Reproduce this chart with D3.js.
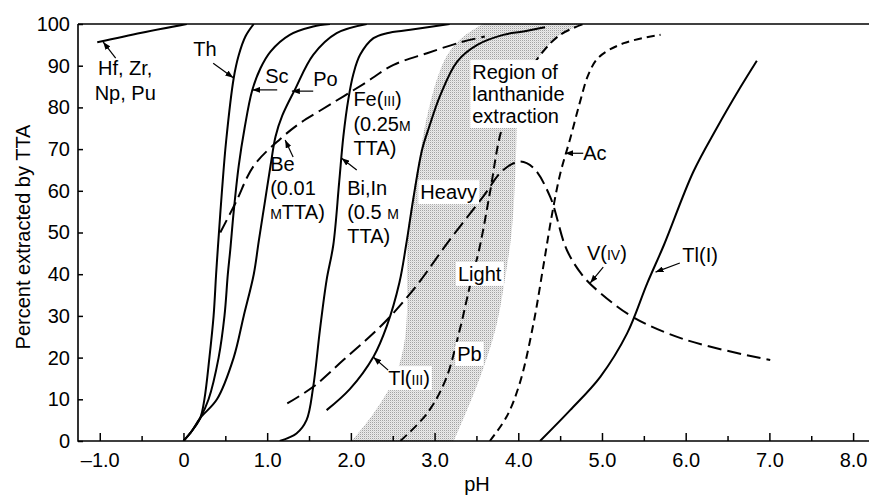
<!DOCTYPE html>
<html><head><meta charset="utf-8">
<script src="https://cdnjs.cloudflare.com/ajax/libs/d3/7.8.5/d3.min.js"></script>
<style>
html,body{margin:0;padding:0;background:#fff;}
svg{display:block;}
text{font-family:"Liberation Sans",Arial,Helvetica,sans-serif;fill:#000;}
</style></head><body>
<svg id="chart" width="869" height="495"></svg>
<script>
// ---------- data ----------
const xTicks = [-1,0,1,2,3,4,5,6,7,8];
const xTickLabels = ["\u20131.0","0","1.0","2.0","3.0","4.0","5.0","6.0","7.0","8.0"];
const xMinorTicks = [-0.5,0.5,1.5,2.5,3.5,4.5,5.5,6.5,7.5];
const yTicks = [0,10,20,30,40,50,60,70,80,90,100];

const hfZrNpPu = [[-1.03,95.6],[-0.5,97.9],[0.04,100]];
const thorium = [[0,0],[0.1,2.4],[0.2,5.5],[0.25,10],[0.31,20],[0.36,30],[0.39,40],[0.41,46],[0.46,60],[0.51,72],[0.6,87],[0.66,92.5],[0.74,97],[0.84,100]];
const scandium = [[0,0],[0.1,2.4],[0.2,5.5],[0.3,10],[0.42,20],[0.49,30],[0.53,40],[0.56,46],[0.6,55],[0.66,66],[0.73,75],[0.82,84],[0.92,89.4],[1.04,93.4],[1.27,97.4],[1.55,99.4],[1.75,100]];
const polonium = [[0,0],[0.1,2.4],[0.2,5.5],[0.4,10],[0.6,20],[0.72,30],[0.84,40],[0.9,48],[0.97,57],[1.04,66],[1.1,73],[1.18,78],[1.33,84.2],[1.55,92.6],[1.83,97.8],[2.19,100]];
const bismuthIndium = [[1.15,0],[1.35,1.8],[1.47,5],[1.55,13],[1.63,26.6],[1.71,38.6],[1.79,47],[1.86,62],[1.91,73],[1.97,82],[2.03,88],[2.11,92.6],[2.27,96.6],[2.43,97.8],[2.71,98.6],[3.18,100]];
const beryllium = [[0.44,50],[0.62,57],[0.84,66],[1.16,72.5],[1.39,76.2],[1.63,79.2],[2.15,85.6],[2.51,90.2],[2.91,93],[3.31,95.6],[3.6,97]];
const thalliumIII = [[1.71,7.4],[1.99,12.5],[2.27,20.2],[2.43,27.6],[2.58,38],[2.66,47],[2.75,58.6],[2.85,69.8],[2.93,75],[3.07,83],[3.27,91],[3.51,95],[3.82,97.4],[4.06,98.2],[4.32,99.2]];
const lead = [[2.59,0],[2.91,6.6],[3.13,14.6],[3.30,26.6],[3.42,37],[3.54,46.6],[3.66,59.4],[3.80,74.6],[3.98,83.5],[4.26,92.5],[4.50,97.4],[4.78,100]];
const actinium = [[3.66,0],[3.86,5.8],[4.02,14],[4.18,28],[4.30,42],[4.40,54],[4.50,64],[4.62,72.5],[4.74,81.5],[4.84,88],[4.96,92],[5.26,95.4],[5.70,97.4]];
const vanadiumIV = [[1.24,9],[1.55,13],[1.91,19.4],[2.41,28.6],[2.79,37.4],[3.15,47.4],[3.58,58.6],[3.82,65],[4.02,67],[4.18,65.5],[4.38,58.6],[4.58,45.8],[4.78,39.4],[4.98,35.5],[5.38,29.6],[6.01,24.2],[7.01,19.4]];
const thalliumI = [[4.26,0],[4.62,7.4],[4.98,15.4],[5.30,25.8],[5.54,37.8],[5.74,47],[6.09,64.5],[6.37,75],[6.65,84.7],[6.85,91.2]];

// lanthanide extraction region boundary (left edge up, across top, right edge down)
const lanthanideLeft = [[2.01,0],[2.27,6.6],[2.51,14.6],[2.63,22.6],[2.67,30.6],[2.67,40],[2.68,50],[2.75,60],[2.82,68],[2.88,75],[2.96,82],[3.05,88],[3.15,92.5],[3.30,96.2],[3.46,98.6],[3.58,100]];
const lanthanideRight = [[4.78,100],[4.50,97.4],[4.26,92.5],[3.98,83.5],[3.98,75],[3.96,62],[3.92,50],[3.85,40],[3.73,27],[3.52,14],[3.23,0]];

// ---------- chart ----------
const svg = d3.select("#chart");
const x = d3.scaleLinear().domain([-1.26, 8.19]).range([78, 869]);
const y = d3.scaleLinear().domain([0, 100]).range([441, 24]);
const FONT = '"Liberation Sans",Arial,Helvetica,sans-serif';

const defs = svg.append("defs");
const pat = defs.append("pattern").attr("id","stipple").attr("patternUnits","userSpaceOnUse")
  .attr("width",2).attr("height",2);
pat.append("rect").attr("width",2).attr("height",2).attr("fill","#ebebeb");
pat.append("rect").attr("width",1).attr("height",1).attr("fill","#a3a3a3");
pat.append("rect").attr("x",1).attr("y",1).attr("width",1).attr("height",1).attr("fill","#d8d8d8");
defs.append("clipPath").attr("id","plotclip").append("rect")
  .attr("x",78).attr("y",24).attr("width",869-78).attr("height",441-24);
defs.append("marker").attr("id","arrow").attr("viewBox","0 0 8 6")
  .attr("refX",8).attr("refY",3).attr("markerWidth",8).attr("markerHeight",6)
  .attr("markerUnits","userSpaceOnUse").attr("orient","auto")
  .append("path").attr("d","M0,0 L8,3 L0,6 z").attr("fill","#000");

const plot = svg.append("g").attr("clip-path","url(#plotclip)");

// shaded region
const regionLine = d3.line().x(d=>x(d[0])).y(d=>y(d[1])).curve(d3.curveCatmullRom.alpha(0.5));
plot.append("path")
  .attr("d", regionLine(lanthanideLeft) + "L" + regionLine(lanthanideRight).slice(1) + "Z")
  .attr("fill","url(#stipple)").attr("stroke","none");

// axes
const gx = svg.append("g").attr("transform","translate(0,441)")
  .call(d3.axisBottom(x).tickValues(xTicks).tickFormat(d=>xTickLabels[xTicks.indexOf(d)])
    .tickSize(-8).tickSizeOuter(0).tickPadding(12));
gx.select(".domain").remove();
const gxm = svg.append("g").attr("transform","translate(0,441)")
  .call(d3.axisBottom(x).tickValues(xMinorTicks).tickFormat("").tickSize(-5).tickSizeOuter(0));
gxm.select(".domain").remove();
const gy = svg.append("g").attr("transform","translate(78,0)")
  .call(d3.axisLeft(y).tickValues(yTicks).tickSize(-5).tickSizeOuter(0).tickPadding(8));
gy.select(".domain").remove();
svg.selectAll(".tick text").attr("font-size",20).attr("font-family",FONT);
svg.selectAll(".tick line").attr("stroke","#000").attr("stroke-width",1.5);

// frame lines (left, bottom, top)
svg.append("path").attr("d",`M${x.range()[0]},${y(100)}V${y(0)}H${x.range()[1]}`)
  .attr("fill","none").attr("stroke","#000").attr("stroke-width",1.6);
svg.append("line").attr("x1",x.range()[0]).attr("x2",x.range()[1]).attr("y1",y(100)).attr("y2",y(100))
  .attr("stroke","#000").attr("stroke-width",1.4);

// curves
const curve = d3.line().x(d=>x(d[0])).y(d=>y(d[1])).curve(d3.curveCatmullRom.alpha(0.5));
const series = [
  {data:hfZrNpPu, dash:null},
  {data:thorium, dash:null},
  {data:scandium, dash:null},
  {data:polonium, dash:null},
  {data:bismuthIndium, dash:null},
  {data:thalliumIII, dash:null},
  {data:thalliumI, dash:null},
  {data:beryllium, dash:"14,6"},
  {data:vanadiumIV, dash:"14,6"},
  {data:lead, dash:"9,5"},
  {data:actinium, dash:"8,5"}
];
series.forEach(s=>{
  plot.append("path").attr("d",curve(s.data)).attr("fill","none")
    .attr("stroke","#000").attr("stroke-width",2)
    .attr("stroke-dasharray",s.dash);
});

// labels ({...} = small capitals)
const labels = [
  {lines:["Hf, Zr,","Np, Pu"], x:-0.696, y:87.8, anchor:"middle", lh:25},
  {lines:["Th"], x:0.116, y:92.3},
  {lines:["Sc"], x:0.976, y:85.85},
  {lines:["Po"], x:1.55, y:85.1},
  {lines:["Fe({III})","(0.25{M}","TTA)"], x:2.03, y:80.3, lh:24.5},
  {lines:["Be","(0.01","{M}TTA)"], x:1.036, y:64.7, lh:24},
  {lines:["Bi,In","(0.5 {M}","TTA)"], x:1.956, y:59.0, lh:24},
  {lines:["Region of","lanthanide","extraction"], x:3.45, y:86.8, lh:22, box:true},
  {lines:["Heavy"], x:2.83, y:58.0, box:true},
  {lines:["Light"], x:3.28, y:38.4, box:true},
  {lines:["Pb"], x:3.27, y:19.2, box:true},
  {lines:["Tl({III})"], x:2.446, y:13.4, box:true},
  {lines:["Ac"], x:4.775, y:67.4},
  {lines:["V({IV})"], x:4.82, y:43.4},
  {lines:["Tl(I)"], x:5.96, y:42.9}
];
const arrows = [
  [-0.81,91.8,-0.96,95.7],
  [0.355,90.6,0.595,87.1],
  [1.12,84.2,0.82,84.2],
  [1.55,83.9,1.295,83.9],
  [1.31,68.1,1.215,72.2],
  [2.07,65,1.89,67.8],
  [2.445,17,2.27,20.1],
  [4.776,69,4.56,69],
  [5.015,41.7,4.86,37.9],
  [5.93,42.7,5.64,40.5]
];

function rich(t, str){
  const re = /\{([^}]*)\}|[^{]+/g; let m;
  while((m = re.exec(str))){
    if(m[1]!==undefined) t.append("tspan").attr("font-size",14).text(m[1]);
    else t.append("tspan").text(m[0]);
  }
}
const lg = svg.append("g");
labels.forEach(L=>{
  const g = lg.append("g");
  L.lines.forEach((ln,i)=>{
    const t = g.append("text").attr("x",x(L.x)).attr("y",y(L.y)+i*(L.lh||0))
      .attr("font-size",20).attr("font-family",FONT)
      .attr("text-anchor",L.anchor||"start");
    rich(t, ln);
  });
  if(L.box){
    const b = g.node().getBBox();
    g.insert("rect",":first-child").attr("x",b.x-2).attr("y",b.y-1)
      .attr("width",b.width+4).attr("height",b.height+2).attr("fill","#fff");
  }
});
arrows.forEach(a=>{
  svg.append("line").attr("x1",x(a[0])).attr("y1",y(a[1])).attr("x2",x(a[2])).attr("y2",y(a[3]))
    .attr("stroke","#000").attr("stroke-width",1.2).attr("marker-end","url(#arrow)");
});

// axis titles
svg.append("text").attr("transform","translate(30,237) rotate(-90)").attr("text-anchor","middle")
  .attr("font-size",20).attr("font-family",FONT).text("Percent extracted by TTA");
svg.append("text").attr("x",477).attr("y",491).attr("text-anchor","middle")
  .attr("font-size",20).attr("font-family",FONT).text("pH");
</script></body></html>
